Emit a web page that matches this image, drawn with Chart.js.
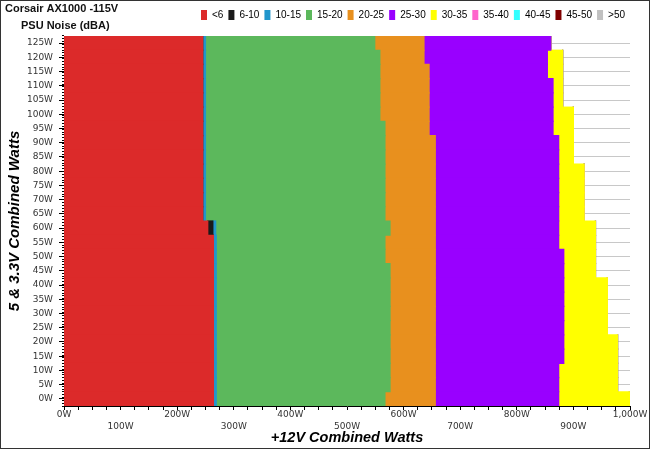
<!DOCTYPE html>
<html>
<head>
<meta charset="utf-8">
<script src="https://cdn.jsdelivr.net/npm/chart.js@4.4.1/dist/chart.umd.min.js"></script>
<style>
html,body{margin:0;padding:0;background:#fff;}
canvas{display:block;}
</style>
</head>
<body>
<canvas id="c" width="650" height="449"></canvas>
<script>
// Y categories (5 & 3.3V combined load), top to bottom
const loads = ['125W','120W','115W','110W','105W','100W','95W','90W','85W','80W','75W','70W','65W',
               '60W','55W','50W','45W','40W','35W','30W','25W','20W','15W','10W','5W','0W'];
// Noise bands (legend)
const bands = ['<6','6-10','10-15','15-20','20-25','25-30','30-35','35-40','40-45','45-50','>50'];
const bandColors = ['#dc2a2a','#1a1a1a','#2196cc','#5cb85c','#e8901e','#9900ff','#ffff00','#ff66cc','#33ffff','#800000','#c0c0c0'];
// Width of each band along the +12V axis (W), per row, top to bottom
const lt6    = [245,245,245,245,245,245,245,245,245,245,245,245,245,254,264,264,264,264,264,264,264,264,264,264,264,264];
const n6_10  = [0,0,0,0,0,0,0,0,0,0,0,0,0,9,0,0,0,0,0,0,0,0,0,0,0,0];
const n10_15 = [5,5,5,5,5,5,5,5,5,5,5,5,5,5,5,5,5,5,5,5,5,5,5,5,5,5];
const n15_20 = [299,308,308,308,308,308,317,317,317,317,317,317,317,308,298,298,307,307,307,307,307,307,307,307,307,298];
const n20_25 = [87,78,87,87,87,87,78,89,89,89,89,89,89,80,89,89,80,80,80,80,80,80,80,80,80,89];
const n25_30 = [224,218,209,219,219,219,219,218,218,218,218,218,218,218,218,227,227,227,227,227,227,227,227,218,218,218];
const n30_35 = [0,27,27,17,17,36,36,26,26,45,45,45,45,65,65,56,56,77,77,77,77,95,95,104,104,125];
const n35_40 = [0,0,0,0,0,0,0,0,0,0,0,0,0,0,0,0,0,0,0,0,0,0,0,0,0,0];
const n40_45 = [0,0,0,0,0,0,0,0,0,0,0,0,0,0,0,0,0,0,0,0,0,0,0,0,0,0];
const n45_50 = [0,0,0,0,0,0,0,0,0,0,0,0,0,0,0,0,0,0,0,0,0,0,0,0,0,0];
const gt50   = [0,0,0,0,0,0,0,0,0,0,0,0,0,0,0,0,0,0,0,0,0,0,0,0,0,0];
const seriesData = [lt6,n6_10,n10_15,n15_20,n20_25,n25_30,n30_35,n35_40,n40_45,n45_50,gt50];
const xMax = 1000, xStep = 25;
const yMinorMin = -2.5, yMinorMax = 127.5, yMinorStep = 1;

const datasets = bands.map((b,i)=>({
  label: b,
  data: seriesData[i],
  backgroundColor: bandColors[i],
  borderWidth: 0,
  inflateAmount: 0.6,
  barPercentage: 1,
  categoryPercentage: 1
}));

const frameAndTitles = {
  id: 'frameAndTitles',
  beforeDraw(chart){
    const ctx = chart.ctx;
    ctx.save();
    ctx.fillStyle = '#fff';
    ctx.fillRect(0,0,chart.width,chart.height);
    ctx.restore();
  },
  afterDraw(chart){
    const ctx = chart.ctx;
    ctx.save();
    ctx.strokeStyle = '#333';
    ctx.lineWidth = 1;
    ctx.strokeRect(0.5,0.5,chart.width-1,chart.height-1);
    ctx.fillStyle = '#111';
    ctx.textBaseline = 'middle';
    ctx.font = 'bold 11px "Liberation Sans", Arial, sans-serif';
    ctx.fillText('Corsair AX1000 -115V', 5, 9);
    ctx.fillText('PSU Noise (dBA)', 21, 26);
    ctx.restore();
  }
};

new Chart(document.getElementById('c'), {
  type: 'bar',
  data: { labels: loads, datasets },
  plugins: [frameAndTitles],
  options: {
    indexAxis: 'y',
    responsive: false,
    animation: false,
    layout: { padding: { top: 5, right: 20, left: 0, bottom: 0 } },
    plugins: {
      tooltip: { enabled: false },
      title: {
        display: true, text: ' ', weight: 500,
        font: { size: 1, lineHeight: 1 },
        padding: { top: 0, bottom: 5 }
      },
      legend: {
        position: 'top',
        align: 'end',
        labels: {
          boxWidth: 6, boxHeight: 10, padding: 5,
          color: '#000',
          font: { family: '"Liberation Sans", Arial, sans-serif', size: 10 }
        }
      }
    },
    scales: {
      x: {
        type: 'linear',
        stacked: true,
        min: 0, max: xMax,
        position: 'bottom',
        afterFit(s){ s.height = 43; },
        border: { color: '#000', width: 1 },
        grid: { drawOnChartArea: false, drawTicks: true, tickLength: 4, tickColor: '#000' },
        ticks: {
          stepSize: xStep, autoSkip: false, maxRotation: 0, minRotation: 0, padding: -2,
          color: '#333',
          font: { family: '"DejaVu Sans", Verdana, sans-serif', size: 9, lineHeight: 1.4 },
          callback(v){
            const t = v.toLocaleString('en-US') + 'W';
            if (v % 200 === 0) return [t];
            if (v % 100 === 0) return ['', t];
            return '';
          }
        },
        title: {
          display: true, text: '+12V Combined Watts', color: '#000',
          font: { family: '"Liberation Sans", Arial, sans-serif', size: 14.5, weight: 'bold', style: 'italic', lineHeight: 1.2 },
          padding: { top: 0, bottom: 2 }
        }
      },
      y: {
        type: 'category',
        stacked: true,
        offset: true,
        weight: 1,
        afterFit(s){ s.width = 64; },
        border: { color: '#000', width: 1 },
        grid: { offset: false, color: '#c8c8c8', lineWidth: 1, drawTicks: true, tickLength: 5, tickColor: '#000' },
        ticks: {
          color: '#333', padding: 6, autoSkip: false,
          font: { family: '"DejaVu Sans", Verdana, sans-serif', size: 9 }
        },
        title: {
          display: true, text: '5 & 3.3V Combined Watts', color: '#000',
          font: { family: '"Liberation Sans", Arial, sans-serif', size: 15, weight: 'bold', style: 'italic', lineHeight: 1.2 },
          padding: { top: 6, bottom: 0 }
        }
      },
      yMinor: {
        type: 'linear',
        axis: 'y',
        position: 'left',
        weight: -1,
        min: yMinorMin, max: yMinorMax,
        afterFit(s){ s.width = 0; },
        border: { color: '#000', width: 1 },
        grid: { drawOnChartArea: false, drawTicks: true, tickLength: 2, tickColor: '#000' },
        ticks: { display: false, stepSize: yMinorStep, autoSkip: false }
      }
    }
  }
});
</script>
</body>
</html>
